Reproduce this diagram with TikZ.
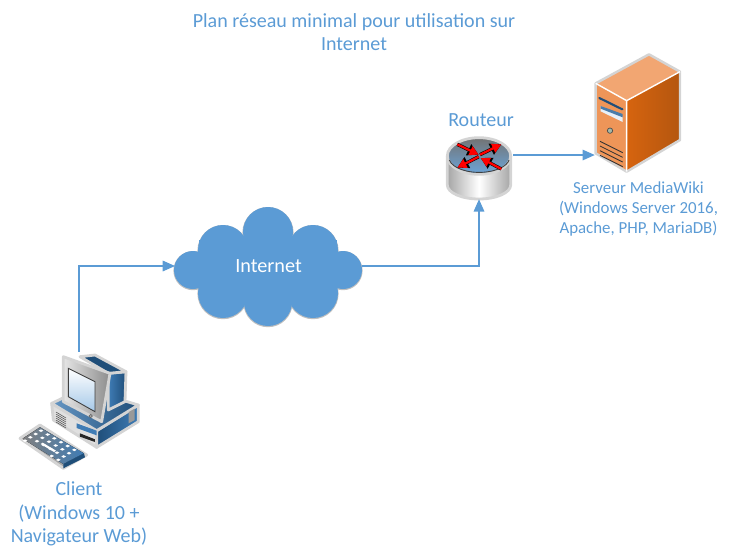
\documentclass[tikz,border=0pt]{standalone}
\usepackage{fontspec}
\setmainfont{Carlito}
\usetikzlibrary{arrows.meta}
\definecolor{officeblue}{HTML}{5B9BD5}
\definecolor{haloGray}{HTML}{D4D4D4}
\definecolor{serverfront}{HTML}{EE9558}
\definecolor{servertop}{HTML}{F2A672}
\definecolor{serverlit}{HTML}{D6640F}
\definecolor{serverdark}{HTML}{B4560F}
\definecolor{deepblue}{HTML}{1F4E79}
\definecolor{midblue}{HTML}{3F7CB5}
\tikzset{
  titlelbl/.style={text=officeblue,align=center,font=\fontsize{11.4}{13.3}\selectfont},
  iconlbl/.style={text=officeblue,align=center,font=\fontsize{9.6}{11.4}\selectfont},
  link/.style={draw=officeblue,line width=0.8pt,-{Triangle[length=7pt,width=6pt]}},
  halo/.style={draw=haloGray,line width=1.6pt,line join=round},
}
\begin{document}
\begin{tikzpicture}[x=0.02cm,y=-0.02cm]
\useasboundingbox (0,0) rectangle (729,559);

%title
\node[titlelbl] (title) at (354,32) {Plan réseau minimal pour utilisation sur\\Internet};

%cloud
\foreach \cx/\cy/\cr in {193/270/19,343/270/19,268/232/25,223/250/25,313/250/25,223/293/25,313/293/25,268/302/24}{
  \fill[black!25] (\cx,\cy+0.6) circle (\cr+0.6);
}
\foreach \cx/\cy/\cr in {193/270/19,343/270/19,268/232/25,223/250/25,313/250/25,223/293/25,313/293/25,268/302/24}{
  \fill[officeblue] (\cx,\cy) circle (\cr);
}
\fill[officeblue] (199,240) rectangle (337,300);
\node[inner sep=0pt,minimum width=187*0.5669pt,minimum height=116*0.5669pt,
  text=white,font=\fontsize{11.5}{13}\selectfont] (internet) at (268.5,266) {Internet};

%router
\begin{scope}[shift={(430,70)},x=0.00667cm,y=-0.00667cm]
\filldraw[halo,left color=black!35,right color=black!35,middle color=white]
  (52,258) -- (52,345) arc[start angle=180,end angle=0,x radius=95,y radius=42] -- (242,258) -- cycle;
\filldraw[halo,top color=black!55,bottom color=officeblue!90] (147,258) ellipse (95 and 55);
\draw[black!75,line width=0.5pt] (58,270) arc[start angle=170,end angle=10,x radius=91,y radius=45];
\foreach \ax/\ay/\bx/\by in {82/223/146/254,150/254/214/223,146/260/82/293,214/297/152/264}{
  \draw[black,line width=1.9pt,-{Triangle[length=6.4pt,width=6.6pt]}] (\ax,\ay) -- (\bx,\by);
}
\foreach \ax/\ay/\bx/\by in {82/223/146/254,150/254/214/223,146/260/82/293,214/297/152/264}{
  \draw[red,line width=1.3pt,-{Triangle[length=5.2pt,width=5.2pt]}] (\ax,\ay) -- (\bx,\by);
}
\end{scope}
\node[inner sep=0pt,minimum width=64*0.5669pt,minimum height=62*0.5669pt] (router) at (479,168) {};
\node[titlelbl] (routerlbl) at (481,120) {Routeur};

%server
\begin{scope}[shift={(430,70)},x=0.00667cm,y=-0.00667cm]
\fill[servertop] (497,40) -- (657,-47) -- (750,5) -- (590,92) -- cycle;
\fill[serverfront] (497,40) -- (590,92) -- (590,305) -- (497,250) -- cycle;
\fill[left color=serverlit,right color=serverdark] (590,92) -- (750,5) -- (750,210) -- (590,305) -- cycle;
\draw[haloGray,line width=1.4pt,line join=round] (497,40) -- (657,-47) -- (750,5) -- (750,210) -- (590,305) -- (497,250) -- cycle;
\draw[white,line width=0.8pt] (497,40) -- (590,92) -- (750,5) (590,92) -- (590,305);
\draw[deepblue,line width=1.2pt,line cap=round] (508,84) -- (577,118);
\fill[white!85!officeblue] (512,108) -- (578,140) -- (578,156) -- (512,124) -- cycle;
\fill[officeblue!80!black] (512,108) -- (578,132) -- (578,142) -- (512,116) -- cycle;
\filldraw[black!70,fill=green!20!black!35] (540,182) circle (8);
\foreach \oy in {0,14,28,42}{
  \draw[black!80,line width=0.5pt] (510,214+\oy) -- (578,248+\oy);
}
\end{scope}
\node[inner sep=0pt,minimum width=84*0.5669pt,minimum height=120*0.5669pt] (server) at (637,155) {};
\node[iconlbl] (serverlbl) at (638.5,209) {Serveur MediaWiki\\(Windows Server 2016,\\Apache, PHP, MariaDB)};

%client
\begin{scope}[shift={(0,340)},x=0.00667cm,y=-0.00667cm]
%keyboard
\filldraw[halo,fill=black!35] (120,255) -- (60,295) -- (190,385) -- (260,345) -- cycle;
\fill[left color=black!50,right color=midblue] (120,262) -- (68,296) -- (190,372) -- (252,340) -- cycle;
\fill[deepblue] (190,372) -- (252,340) -- (255,352) -- (190,385) -- cycle;
\foreach \i in {0,...,5}{
  \foreach \j in {0,1,2}{
    \fill[white] ({116+\i*20-\j*16},{272+\i*11.5+\j*10}) -- ++(7,-4) -- ++(7,4) -- ++(-7,4) -- cycle;
  }
}
\foreach \i in {0,4,5}{
  \fill[white] ({116+\i*20-48},{272+\i*11.5+30}) -- ++(7,-4) -- ++(7,4) -- ++(-7,4) -- cycle;
}
\fill[white] (122,312) -- (128,308) -- (168,332) -- (162,336) -- cycle;
%base
\filldraw[halo,fill=black!12] (155,190) -- (290,272) -- (290,322) -- (160,240) -- cycle;
\filldraw[halo,left color=deepblue,right color=midblue] (290,272) -- (415,195) -- (415,245) -- (290,322) -- cycle;
\filldraw[halo,left color=midblue!80,right color=deepblue] (155,190) -- (250,145) -- (415,195) -- (290,272) -- cycle;
\foreach \oy in {0,6,12,18,24,30}{
  \draw[black!70,line width=0.3pt] (168,216+\oy) -- (198,234+\oy);
}
\fill[midblue] (230,250) -- (290,272) -- (290,286) -- (230,264) -- cycle;
\fill[black!85] (240,280) -- (285,298) -- (285,306) -- (240,290) -- cycle;
\fill[black!40] (386,216) -- (404,206) -- (404,240) -- (386,250) -- cycle;
%monitor
\filldraw[halo,left color=midblue,right color=deepblue] (325,100) -- (378,95) -- (375,185) -- (325,210) -- cycle;
\filldraw[halo,fill=deepblue] (240,50) -- (285,45) -- (378,95) -- (325,100) -- cycle;
\filldraw[halo,left color=black!10,right color=black!45] (190,50) -- (330,100) -- (305,245) -- (190,185) -- cycle;
\filldraw[black!75,line width=0.5pt,top color=white,bottom color=officeblue!55] (205,85) -- (285,125) -- (285,215) -- (205,170) -- cycle;
\filldraw[black!60,fill=black!30] (272,228) circle (5);
\end{scope}
\node[inner sep=0pt,minimum width=120*0.5669pt,minimum height=118*0.5669pt] (client) at (79,411) {};
\node[titlelbl] (clientlbl) at (79,514) {Client\\(Windows 10 +\\Navigateur Web)};

%links
\draw[link] (client.north) |- (internet.west);
\draw[link] (internet.east) -| (router.south);
\draw[link] (513,155) -- (server.west |- 513,155);
\end{tikzpicture}
\end{document}
